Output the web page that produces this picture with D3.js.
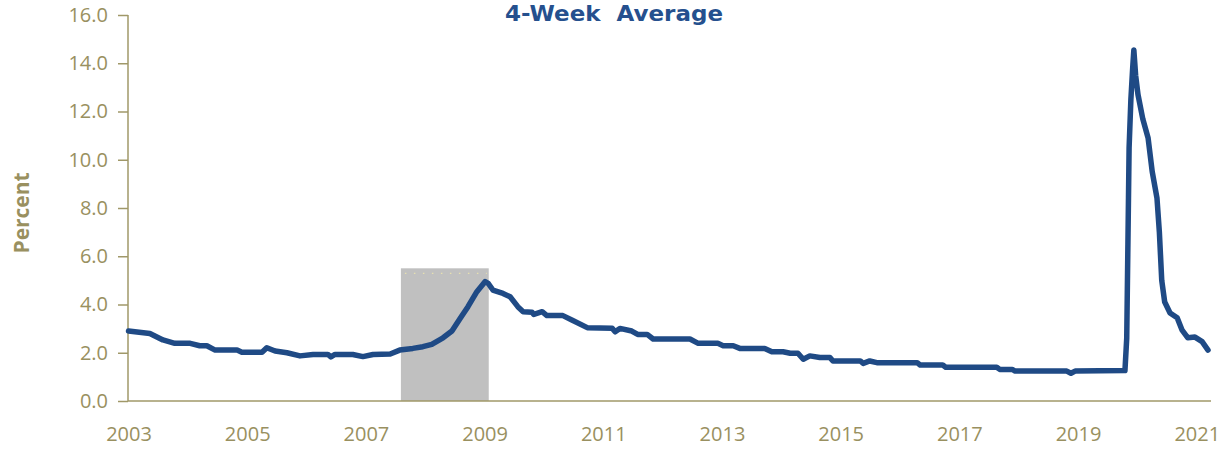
<!DOCTYPE html>
<html>
<head>
<meta charset="utf-8">
<script src="https://cdn.jsdelivr.net/npm/d3@7"></script>
<style>
  html, body { margin: 0; padding: 0; background: #ffffff; }
  svg { display: block; }
</style>
</head>
<body>
<svg id="chart" width="1230" height="451"></svg>
<script>
// ---- data (x in axis years) ----
const years = [
  2003.00, 2003.36, 2003.58, 2003.78, 2004.04, 2004.20, 2004.32, 2004.46, 2004.83, 2004.91,
  2005.25, 2005.33, 2005.47, 2005.67, 2005.89, 2006.11, 2006.36, 2006.41, 2006.48, 2006.78,
  2006.95, 2007.12, 2007.41, 2007.57, 2007.79, 2007.96, 2008.11, 2008.30, 2008.45, 2008.59,
  2008.72, 2008.87, 2009.01, 2009.06, 2009.14, 2009.31, 2009.43, 2009.56, 2009.65, 2009.80,
  2009.83, 2009.97, 2010.05, 2010.32, 2010.47, 2010.73, 2011.15, 2011.20, 2011.28, 2011.48,
  2011.58, 2011.74, 2011.84, 2012.46, 2012.60, 2012.93, 2013.02, 2013.19, 2013.30, 2013.72,
  2013.84, 2014.03, 2014.15, 2014.28, 2014.37, 2014.48, 2014.65, 2014.82, 2014.87, 2015.33,
  2015.38, 2015.49, 2015.61, 2016.29, 2016.34, 2016.72, 2016.77, 2017.63, 2017.68, 2017.89,
  2017.94, 2018.81, 2018.88, 2018.95, 2019.79, 2019.82, 2019.84, 2019.86, 2019.89, 2019.92,
  2019.94, 2019.97, 2020.01, 2020.09, 2020.18, 2020.25, 2020.33, 2020.37, 2020.41, 2020.46,
  2020.55, 2020.67, 2020.75, 2020.85, 2020.97, 2021.09, 2021.19
];
const values = [
  2.90, 2.80, 2.53, 2.39, 2.39, 2.29, 2.29, 2.11, 2.11, 2.02,
  2.02, 2.21, 2.07, 2.00, 1.87, 1.93, 1.93, 1.83, 1.93, 1.93,
  1.84, 1.93, 1.95, 2.11, 2.18, 2.25, 2.35, 2.62, 2.90, 3.43,
  3.91, 4.53, 4.95, 4.88, 4.60, 4.46, 4.32, 3.91, 3.70, 3.68,
  3.59, 3.70, 3.54, 3.54, 3.36, 3.04, 3.02, 2.87, 3.01, 2.90,
  2.76, 2.76, 2.57, 2.57, 2.39, 2.39, 2.29, 2.29, 2.18, 2.18,
  2.04, 2.04, 1.98, 1.98, 1.73, 1.87, 1.80, 1.80, 1.66, 1.66,
  1.56, 1.66, 1.59, 1.59, 1.49, 1.49, 1.40, 1.40, 1.31, 1.31,
  1.24, 1.24, 1.15, 1.24, 1.26, 2.60, 6.50, 10.50, 12.50, 13.80,
  14.55, 13.50, 12.70, 11.70, 10.90, 9.50, 8.40, 7.00, 5.00, 4.10,
  3.65, 3.45, 2.95, 2.62, 2.65, 2.46, 2.11
];
const xTickYears = [2003, 2005, 2007, 2009, 2011, 2013, 2015, 2017, 2019, 2021];
const xTickLabels = ["2003", "2005", "2007", "2009", "2011", "2013", "2015", "2017", "2019", "2021"];
const yTicks = [0, 2, 4, 6, 8, 10, 12, 14, 16];
const recession = [2007.59, 2009.07];
const recessionTop = 5.5;
const titleText = "4-Week  Average";
const yLabel = "Percent";

// ---- layout ----
const svg = d3.select("#chart");
const olive = "#999060";
const axisCol = "#a09868";
const lineCol = "#1f4a85";

const x = d3.scaleLinear().domain([2003, 2021.24]).range([128.5, 1211]);
const y = d3.scaleLinear().domain([0, 16]).range([401, 15]);

// recession shading
svg.append("rect")
  .attr("x", x(recession[0]))
  .attr("y", y(recessionTop))
  .attr("width", x(recession[1]) - x(recession[0]))
  .attr("height", y(0) - y(recessionTop))
  .attr("fill", "#c0c0c0");
svg.append("line")
  .attr("x1", x(recession[0]) + 4).attr("x2", x(recession[1]) - 2)
  .attr("y1", y(5.29)).attr("y2", y(5.29))
  .attr("stroke", "#e6e0b0").attr("stroke-width", 1.2)
  .attr("stroke-dasharray", "1.5,7.5");

// y axis
const yAxis = d3.axisLeft(y).tickValues(yTicks).tickFormat(d3.format(".1f"))
  .tickSize(10).tickPadding(10);
const gy = svg.append("g").attr("transform", "translate(128,0)").call(yAxis);
gy.select(".domain").attr("stroke", axisCol).attr("stroke-width", 1.5)
  .attr("d", `M0,${y(16)}V${y(0)}`);
gy.selectAll(".tick line").attr("stroke", axisCol).attr("stroke-width", 1.5);
gy.selectAll(".tick text")
  .attr("fill", olive)
  .style("font-family", "'Open Sans', sans-serif")
  .style("font-size", "20px");

// x axis
const xAxis = d3.axisBottom(x).tickValues(xTickYears)
  .tickFormat((d, i) => xTickLabels[i]).tickSize(0).tickPadding(26);
const gx = svg.append("g").attr("transform", `translate(0,${y(0)})`).call(xAxis);
gx.select(".domain").attr("stroke", axisCol).attr("stroke-width", 1.5)
  .attr("d", `M128,0H1211`);
gx.selectAll(".tick text")
  .attr("fill", olive)
  .attr("dy", "0")
  .attr("y", 40)
  .style("font-family", "'Open Sans', sans-serif")
  .style("font-size", "20px");

// line
const line = d3.line().x((d, i) => x(years[i])).y(d => y(d));
svg.append("path")
  .datum(values)
  .attr("d", line)
  .attr("fill", "none")
  .attr("stroke", lineCol)
  .attr("stroke-width", 5.5)
  .attr("stroke-linejoin", "round")
  .attr("stroke-linecap", "round");

// title
svg.append("text")
  .attr("x", 614).attr("y", 21)
  .attr("text-anchor", "middle")
  .attr("fill", "#25508e")
  .style("font-family", "'DejaVu Sans', sans-serif")
  .style("font-weight", "bold")
  .style("font-size", "22px")
  .style("white-space", "pre")
  .attr("textLength", 218)
  .attr("lengthAdjust", "spacingAndGlyphs")
  .text(titleText);

// y label
svg.append("text")
  .attr("transform", "translate(29,213) rotate(-90)")
  .attr("text-anchor", "middle")
  .attr("fill", olive)
  .style("font-family", "'Open Sans', sans-serif")
  .style("font-weight", "bold")
  .style("font-size", "21px")
  .attr("textLength", 81)
  .attr("lengthAdjust", "spacingAndGlyphs")
  .text(yLabel);
</script>
</body>
</html>
